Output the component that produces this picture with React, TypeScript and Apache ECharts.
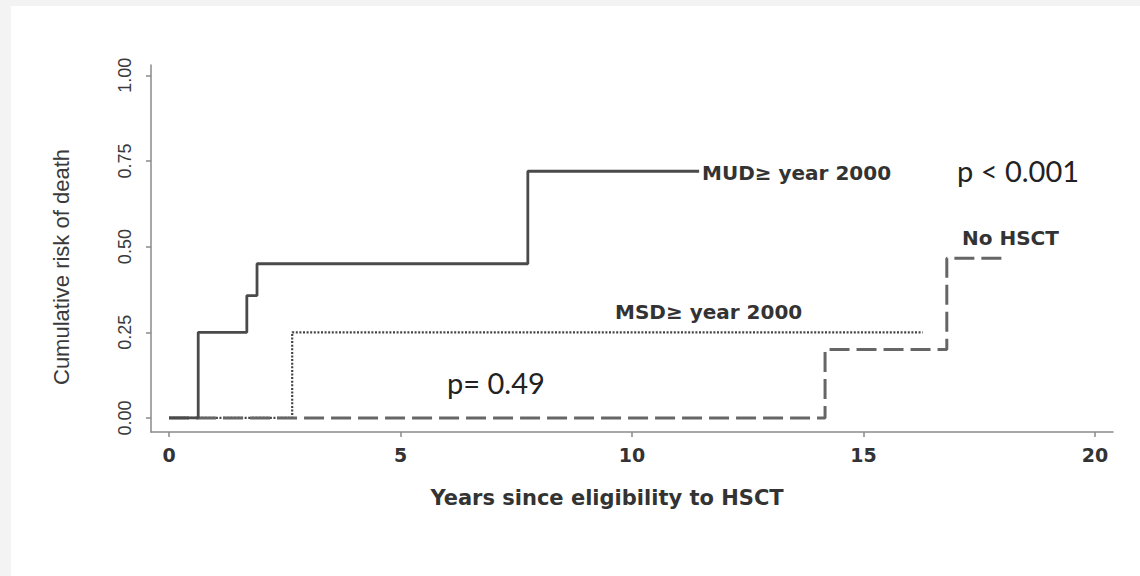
import React, { useEffect, useRef } from "react";
import * as echarts from "echarts";

// Kaplan-Meier style cumulative risk of death (years since eligibility to HSCT)
const mudYears = [0, 0.63, 1.68, 1.9, 7.75, 11.45];
const mudRisk = [0, 0.25, 0.357, 0.45, 0.72, 0.72];

const msdYears = [0, 2.66, 16.28];
const msdRisk = [0, 0.25, 0.25];

const noHsctYears = [0, 14.17, 16.8, 18.0];
const noHsctRisk = [0, 0.2, 0.466, 0.466];

const xTicks = [0, 5, 10, 15, 20];
const yTicks = [0, 0.25, 0.5, 0.75, 1.0];

const seriesNames = ["MUD\u2265 year 2000", "MSD\u2265 year 2000", "No HSCT"];
const pMain = "p < 0.001";
const pMsd = "p= 0.49";
const xTitle = "Years since eligibility to HSCT";
const yTitle = "Cumulative risk of death";

const pairs = (xs: number[], ys: number[]) => xs.map((x, i) => [x, ys[i]]);

export default function App() {
  const ref = useRef<HTMLDivElement>(null);

  useEffect(() => {
    if (!ref.current) return;
    const chart = echarts.init(ref.current, undefined, { renderer: "svg" });
    const axisColor = "#8a8a8a";
    const labelFont = "DejaVu Sans";
    chart.setOption({
      animation: false,
      backgroundColor: "transparent",
      grid: { left: 151, right: 27, top: 65, bottom: 144, containLabel: false, outerBoundsMode: "none" },
      xAxis: {
        type: "value",
        min: -0.39,
        max: 20.39,
        axisLine: { show: true, onZero: false, lineStyle: { color: axisColor, width: 1.5 } },
        axisTick: { show: true, customValues: xTicks, length: 5, lineStyle: { color: axisColor, width: 1.5 } },
        axisLabel: {
          customValues: xTicks,
          margin: 13,
          color: "#333333",
          fontFamily: labelFont,
          fontWeight: "bold",
          fontSize: 19,
        },
        splitLine: { show: false },
      },
      yAxis: {
        type: "value",
        min: -0.041,
        max: 1.03,
        axisLine: { show: true, onZero: false, lineStyle: { color: axisColor, width: 1.5 } },
        axisTick: { show: true, customValues: yTicks, length: 5, lineStyle: { color: axisColor, width: 1.5 } },
        axisLabel: {
          customValues: yTicks,
          rotate: 90,
          margin: 17,
          color: "#3a3a3a",
          fontFamily: "Liberation Sans",
          fontSize: 18,
          formatter: (v: number) => v.toFixed(2),
        },
        splitLine: { show: false },
      },
      series: [
        {
          name: seriesNames[1],
          type: "line",
          step: "end",
          symbol: "none",
          silent: true,
          data: pairs(msdYears, msdRisk),
          lineStyle: { color: "#444444", width: 2.2, type: [2, 1.6] },
          z: 2,
        },
        {
          name: seriesNames[2],
          type: "line",
          step: "end",
          symbol: "none",
          silent: true,
          data: pairs(noHsctYears, noHsctRisk),
          lineStyle: { color: "#666666", width: 3, type: [20, 7] },
          z: 3,
        },
        {
          name: seriesNames[0],
          type: "line",
          step: "end",
          symbol: "none",
          silent: true,
          data: pairs(mudYears, mudRisk),
          lineStyle: { color: "#4a4a4a", width: 2.8, type: "solid" },
          z: 4,
        },
      ],
      graphic: [
        {
          type: "text",
          x: 607,
          y: 498,
          style: {
            text: xTitle,
            fill: "#333333",
            font: `bold 21px "${labelFont}"`,
            textAlign: "center",
            textVerticalAlign: "middle",
          },
        },
        {
          type: "text",
          x: 61,
          y: 267,
          rotation: Math.PI / 2,
          style: {
            text: yTitle,
            fill: "#3a3a3a",
            font: '22px "Liberation Sans"',
            textAlign: "center",
            textVerticalAlign: "middle",
          },
        },
        {
          type: "text",
          x: 702,
          y: 173,
          style: {
            text: seriesNames[0],
            fill: "#333333",
            font: `bold 20px "${labelFont}"`,
            textAlign: "left",
            textVerticalAlign: "middle",
          },
        },
        {
          type: "text",
          x: 615,
          y: 312,
          style: {
            text: seriesNames[1],
            fill: "#333333",
            font: `bold 20px "${labelFont}"`,
            textAlign: "left",
            textVerticalAlign: "middle",
          },
        },
        {
          type: "text",
          x: 962,
          y: 238,
          style: {
            text: seriesNames[2],
            fill: "#333333",
            font: `bold 20px "${labelFont}"`,
            textAlign: "left",
            textVerticalAlign: "middle",
          },
        },
        {
          type: "text",
          x: 957,
          y: 170,
          style: {
            text: pMain,
            fill: "#222222",
            font: '29px "Lato"',
            textAlign: "left",
            textVerticalAlign: "middle",
          },
        },
        {
          type: "text",
          x: 447,
          y: 382,
          style: {
            text: pMsd,
            fill: "#222222",
            font: '29px "Lato"',
            textAlign: "left",
            textVerticalAlign: "middle",
          },
        },
      ],
    });
    return () => chart.dispose();
  }, []);

  return (
    <div style={{ position: "fixed", left: 0, top: 0, width: 1140, height: 576, background: "#f3f3f3" }}>
      <div style={{ position: "absolute", left: 11, top: 6, right: 0, bottom: 0, background: "#ffffff" }} />
      <div ref={ref} style={{ position: "absolute", left: 0, top: 0, width: 1140, height: 576 }} />
    </div>
  );
}
